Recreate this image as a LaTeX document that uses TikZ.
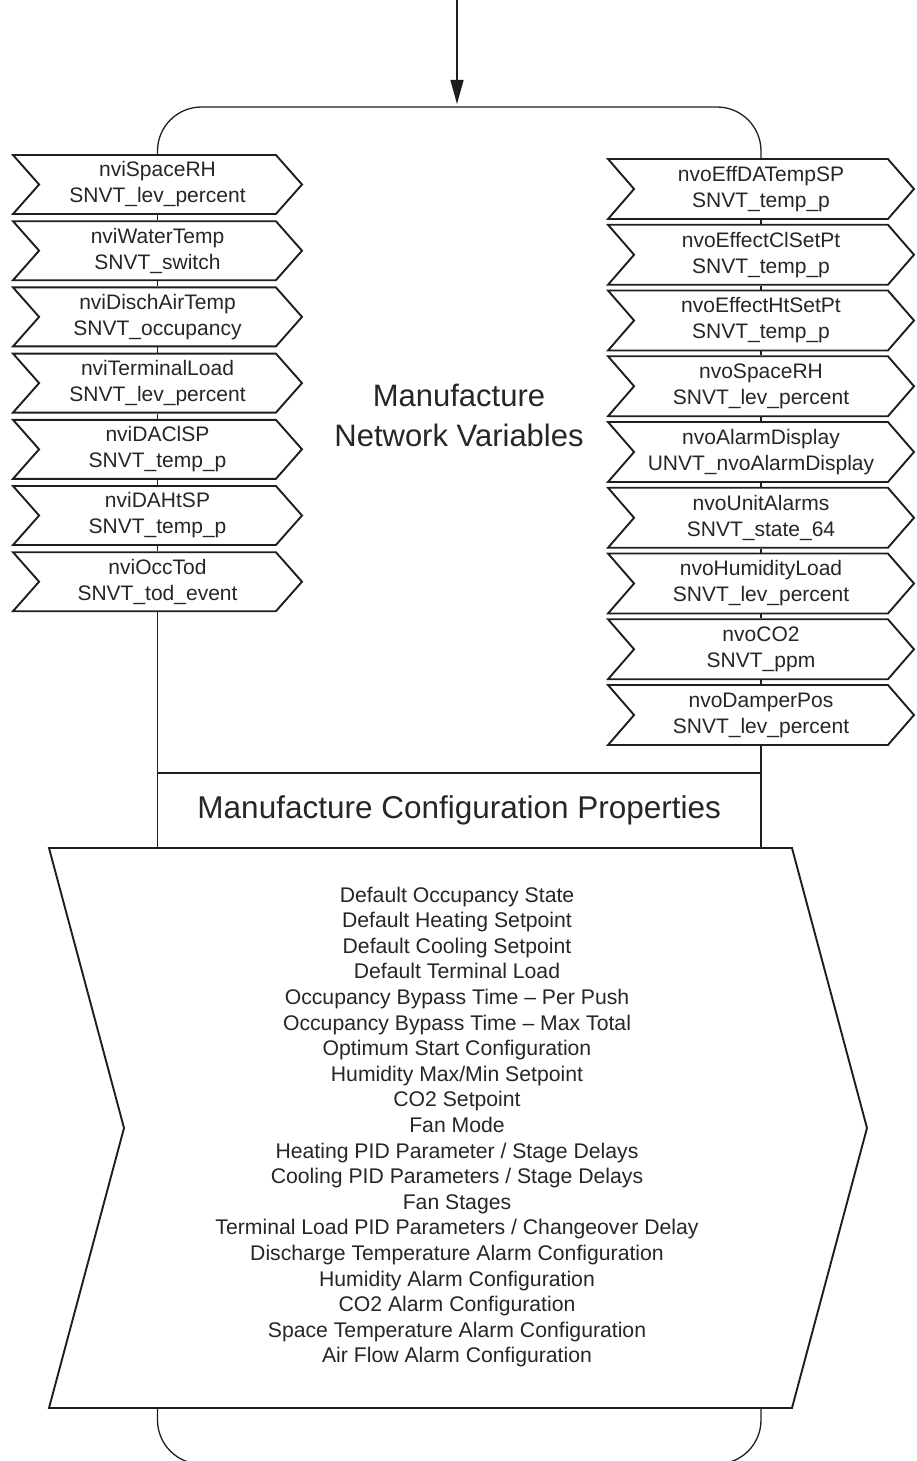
\documentclass[tikz,border=0pt]{standalone}
\usepackage{fontspec}
\setmainfont{Liberation Sans}
\usetikzlibrary{shapes.symbols,arrows.meta}
\definecolor{ink}{HTML}{1E1E1E}
\definecolor{txt}{HTML}{262626}
\begin{document}
\begin{tikzpicture}[x=1pt,y=-1pt,
  cv/.style={shape=signal, signal from=west, signal to=east, draw=ink, line width=1.9pt, fill=white, inner sep=0pt, align=center, text=txt, font=\fontsize{21}{26}\selectfont},
  incv/.style={cv, minimum width=289, minimum height=59, signal pointer angle=97},
  outcv/.style={cv, minimum width=306, minimum height=60, signal pointer angle=98},
  link/.style={draw=ink, line width=1.3pt},
  frame/.style={draw=ink, line width=1.3pt, rounded corners=44},
  title/.style={text=txt, align=center, font=\fontsize{31}{40}\selectfont},
  listtext/.style={text=txt, align=center, font=\fontsize{21.2}{25.6}\selectfont},
]
\useasboundingbox (0,0) rectangle (916,1461);

% frame coordinates
\coordinate (src) at (457,0);
\coordinate (ftop) at (457,107);
\coordinate (fbot) at (457,1464);

% input chevrons
\node[incv] (i1) at (157.5,184.5) {nviSpaceRH\\SNVT\_lev\_percent};
\node[incv] (i2) at (157.5,250.7) {nviWaterTemp\\SNVT\_switch};
\node[incv] (i3) at (157.5,316.9) {nviDischAirTemp\\SNVT\_occupancy};
\node[incv] (i4) at (157.5,383.1) {nviTerminalLoad\\SNVT\_lev\_percent};
\node[incv] (i5) at (157.5,449.3) {nviDAClSP\\SNVT\_temp\_p};
\node[incv] (i6) at (157.5,515.5) {nviDAHtSP\\SNVT\_temp\_p};
\node[incv] (i7) at (157.5,581.7) {nviOccTod\\SNVT\_tod\_event};

% output chevrons
\node[outcv] (o1) at (761,189) {nvoEffDATempSP\\SNVT\_temp\_p};
\node[outcv] (o2) at (761,254.75) {nvoEffectClSetPt\\SNVT\_temp\_p};
\node[outcv] (o3) at (761,320.5) {nvoEffectHtSetPt\\SNVT\_temp\_p};
\node[outcv] (o4) at (761,386.25) {nvoSpaceRH\\SNVT\_lev\_percent};
\node[outcv] (o5) at (761,452) {nvoAlarmDisplay\\UNVT\_nvoAlarmDisplay};
\node[outcv] (o6) at (761,517.75) {nvoUnitAlarms\\SNVT\_state\_64};
\node[outcv] (o7) at (761,583.5) {nvoHumidityLoad\\SNVT\_lev\_percent};
\node[outcv] (o8) at (761,649.25) {nvoCO2\\SNVT\_ppm};
\node[outcv] (o9) at (761,715) {nvoDamperPos\\SNVT\_lev\_percent};

% centre title
\node[title] (nv) at (459,415) {Manufacture\\Network Variables};

% configuration box
\node[draw=ink, line width=1.3pt, minimum width=603.5, minimum height=75, inner sep=0pt,
      text=txt, font=\fontsize{31.5}{38}\selectfont] (cfg) at (459.25,810.5)
      {Manufacture Configuration Properties};

% big chevron
\node[shape=signal, signal from=west, signal to=east, signal pointer angle=150,
      draw=ink, line width=1.9pt, fill=white, inner sep=0pt,
      minimum width=818, minimum height=560] (big) at (458,1128) {};
\node[listtext] (props) at (457,1127) {Default Occupancy State\\
Default Heating Setpoint\\
Default Cooling Setpoint\\
Default Terminal Load\\
Occupancy Bypass Time -- Per Push\\
Occupancy Bypass Time -- Max Total\\
Optimum Start Configuration\\
Humidity Max/Min Setpoint\\
CO2 Setpoint\\
Fan Mode\\
Heating PID Parameter / Stage Delays\\
Cooling PID Parameters / Stage Delays\\
Fan Stages\\
Terminal Load PID Parameters / Changeover Delay\\
Discharge Temperature Alarm Configuration\\
Humidity Alarm Configuration\\
CO2 Alarm Configuration\\
Space Temperature Alarm Configuration\\
Air Flow Alarm Configuration};

% frame
\draw[frame] (i1.north) |- (ftop) -| (o1.north);
\draw[frame] (big.south -| i7.south) |- (fbot) -| (big.south -| o9.south);

% links between chevrons
\draw[link] (i1.south) -- (i2.north);
\draw[link] (i2.south) -- (i3.north);
\draw[link] (i3.south) -- (i4.north);
\draw[link] (i4.south) -- (i5.north);
\draw[link] (i5.south) -- (i6.north);
\draw[link] (i6.south) -- (i7.north);
\draw[link] (i7.south) -- (cfg.north -| i7.south);
\draw[link] (o1.south) -- (o2.north);
\draw[link] (o2.south) -- (o3.north);
\draw[link] (o3.south) -- (o4.north);
\draw[link] (o4.south) -- (o5.north);
\draw[link] (o5.south) -- (o6.north);
\draw[link] (o6.south) -- (o7.north);
\draw[link] (o7.south) -- (o8.north);
\draw[link] (o8.south) -- (o9.north);
\draw[link] (o9.south) -- (cfg.north -| o9.south);

% incoming arrow
\draw[link, -{Triangle[length=24pt,width=13pt]}] (src) -- ([yshift=3pt]ftop);
\end{tikzpicture}
\end{document}
